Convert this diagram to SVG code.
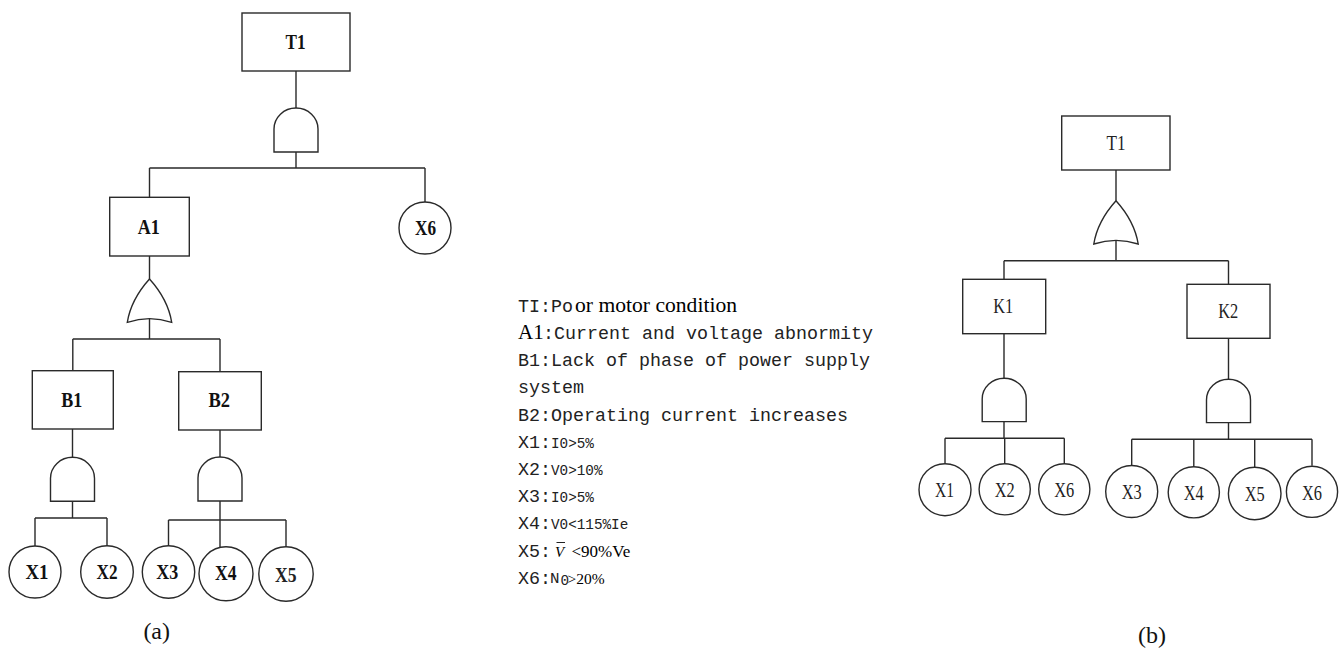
<svg xmlns="http://www.w3.org/2000/svg" width="1344" height="653" viewBox="0 0 1344 653">
<style>
.s{fill:#fff;stroke:#2a2a2a;stroke-width:1.4}
.c{fill:none;stroke:#2a2a2a;stroke-width:1.4}
.lb{font-family:"Liberation Serif",serif;font-weight:bold;font-size:20px;fill:#111;text-anchor:middle}
.ln{font-family:"Liberation Serif",serif;font-size:21px;fill:#222;text-anchor:middle}
.m{font-family:"Liberation Mono",monospace;font-size:18.33px;fill:#222}
.ms{font-family:"Liberation Mono",monospace;font-size:14.3px;fill:#222}
.t{font-family:"Liberation Serif",serif;fill:#000}
.cap{font-family:"Liberation Serif",serif;font-size:24px;fill:#111;text-anchor:middle}
</style>
<defs>
<path id="and" d="M-22,44 V21 A22,21 0 0 1 22,21 V44 Z"/>
<path id="or" d="M0,0 Q-18.5,20.5 -22.2,43.3 Q0,36 22.2,43.3 Q18.5,20.5 0,0 Z"/>
</defs>

<g id="connectors" class="c">
<!-- tree (a) -->
<path d="M296,71 V108 M296,152 V168 M149.5,168 H425 M149.5,168 V197.3 M425,168 V202"/>
<path d="M149.5,256 V279 M149.5,319 V339 M72.8,339 H220 M72.8,339 V370.7 M220,339 V371.7"/>
<path d="M72.5,429 V457 M72.5,501 V518 M35,518 H107 M35,518 V546 M107,518 V546"/>
<path d="M220,430 V457 M220,501 V520 M168.5,520 H286 M168.5,520 V546 M220,520 V547.5 M286,520 V547"/>
<!-- tree (b) -->
<path d="M1116,170 V200.7 M1116,240.7 V260.7 M1004,260.7 H1228.5 M1004,260.7 V279.3 M1228.5,260.7 V284.3"/>
<path d="M1004,333.7 V378.3 M1004,421.7 V438.3 M945,438.3 H1064.3 M945,438.3 V463.7 M1004.7,438.3 V463.3 M1064.3,438.3 V463.3"/>
<path d="M1228.5,338.3 V379.3 M1228.5,422.7 V439.3 M1131.7,439.3 H1312 M1131.7,439.3 V465.5 M1193.8,439.3 V466.3 M1254.7,439.3 V467.5 M1312,439.3 V465.8"/>
</g>

<!-- ===== Tree (a) ===== -->
<g id="a-T1"><rect class="s" x="242" y="13" width="108" height="58"/><text class="lb" x="295.5" y="49.3" textLength="20" lengthAdjust="spacingAndGlyphs">T1</text></g>
<g id="a-G1"><use href="#and" class="s" transform="translate(296,108)"/></g>
<g id="a-A1"><rect class="s" x="109.7" y="197.3" width="79.6" height="58.7"/><text class="lb" x="148.7" y="234.3" textLength="22" lengthAdjust="spacingAndGlyphs">A1</text></g>
<g id="a-X6"><circle class="s" cx="425" cy="228" r="26"/><text class="lb" x="425.5" y="235" textLength="21" lengthAdjust="spacingAndGlyphs">X6</text></g>
<g id="a-G2"><use href="#or" class="s" transform="translate(149.5,279)"/></g>
<g id="a-B1"><rect class="s" x="32.3" y="370.7" width="81" height="58.3"/><text class="lb" x="71.7" y="407.3" textLength="21" lengthAdjust="spacingAndGlyphs">B1</text></g>
<g id="a-B2"><rect class="s" x="178.7" y="371.7" width="82.6" height="58.3"/><text class="lb" x="219.2" y="407.3" textLength="21.5" lengthAdjust="spacingAndGlyphs">B2</text></g>
<g id="a-G3"><use href="#and" class="s" transform="translate(72.5,457.3)"/></g>
<g id="a-G4"><use href="#and" class="s" transform="translate(220,457)"/></g>
<g id="a-X1"><circle class="s" cx="35" cy="572" r="26"/><text class="lb" x="37" y="579.3" textLength="23" lengthAdjust="spacingAndGlyphs">X1</text></g>
<g id="a-X2"><circle class="s" cx="107" cy="572" r="26.3"/><text class="lb" x="107" y="579.3" textLength="21" lengthAdjust="spacingAndGlyphs">X2</text></g>
<g id="a-X3"><circle class="s" cx="168.5" cy="572" r="26.2"/><text class="lb" x="167.3" y="578.5" textLength="22" lengthAdjust="spacingAndGlyphs">X3</text></g>
<g id="a-X4"><circle class="s" cx="226" cy="573.8" r="27"/><text class="lb" x="225.8" y="580" textLength="21.5" lengthAdjust="spacingAndGlyphs">X4</text></g>
<g id="a-X5"><circle class="s" cx="286" cy="574" r="27.2"/><text class="ln" x="285.8" y="581.7" textLength="21.5" lengthAdjust="spacingAndGlyphs" font-weight="600">X5</text></g>
<text class="cap" x="156.7" y="638.5">(a)</text>

<!-- ===== Legend ===== -->
<g id="legend">
<text class="m" x="518" y="311.5">TI:Po</text><text class="t" x="575" y="311.5" font-size="21" textLength="162" lengthAdjust="spacingAndGlyphs">or motor condition</text>
<text class="t" x="518" y="338.8" font-size="21">A1</text><text class="m" x="543" y="338.8">:Current and voltage abnormity</text>
<text class="m" x="518" y="366">B1:Lack of phase of power supply</text>
<text class="m" x="518" y="393.3">system</text>
<text class="m" x="518" y="420.5">B2:Operating current increases</text>
<text class="m" x="518" y="447.7">X1:</text><text class="ms" x="551" y="447.7">I0&gt;5%</text>
<text class="m" x="518" y="474.9">X2:</text><text class="ms" x="551" y="474.9">V0&gt;10%</text>
<text class="m" x="518" y="502.1">X3:</text><text class="ms" x="551" y="502.1">I0&gt;5%</text>
<text class="m" x="518" y="529.3">X4:</text><text class="ms" x="551" y="529.3">V0&lt;115%Ie</text>
<text class="m" x="518" y="556.5">X5:</text><text class="t" x="555" y="556.5" font-size="15" font-style="italic">V</text><line x1="556.5" y1="542.5" x2="565" y2="542.5" stroke="#222" stroke-width="1"/><text class="t" x="571.5" y="556.5" font-size="17">&lt;90%Ve</text>
<text class="m" x="518" y="583.7">X6:</text><text class="ms" x="550" y="583.3" textLength="9.5" lengthAdjust="spacingAndGlyphs">N</text><text class="ms" x="560.5" y="584.5" font-size="9">0</text><text class="t" x="567.5" y="583.5" font-size="15.5">&gt;20%</text>
</g>

<!-- ===== Tree (b) ===== -->
<g id="b-T1"><rect class="s" x="1061.7" y="116" width="108.3" height="54"/><text class="ln" x="1116" y="150" textLength="19" lengthAdjust="spacingAndGlyphs">T1</text></g>
<g id="b-G1"><use href="#or" class="s" transform="translate(1116,200.7)"/></g>
<g id="b-K1"><rect class="s" x="962.7" y="279.3" width="83" height="54.4"/><text class="ln" x="1003.3" y="313.3" textLength="20" lengthAdjust="spacingAndGlyphs">K1</text></g>
<g id="b-K2"><rect class="s" x="1187" y="284.3" width="83" height="54"/><text class="ln" x="1228.3" y="318" textLength="20" lengthAdjust="spacingAndGlyphs">K2</text></g>
<g id="b-G2"><use href="#and" class="s" transform="translate(1004.2,378.3) scale(1,0.986)"/></g>
<g id="b-G3"><use href="#and" class="s" transform="translate(1228.5,379.3) scale(1,0.986)"/></g>
<g id="b-X1"><circle class="s" cx="945" cy="489.7" r="26"/><text class="ln" x="944.5" y="497.4" textLength="19" lengthAdjust="spacingAndGlyphs">X1</text></g>
<g id="b-X2"><circle class="s" cx="1004.7" cy="489.3" r="25.6"/><text class="ln" x="1004.7" y="497" textLength="20" lengthAdjust="spacingAndGlyphs">X2</text></g>
<g id="b-X6a"><circle class="s" cx="1064.3" cy="489.3" r="25.6"/><text class="ln" x="1064.3" y="497" textLength="20" lengthAdjust="spacingAndGlyphs">X6</text></g>
<g id="b-X3"><circle class="s" cx="1131.7" cy="491.5" r="26"/><text class="ln" x="1131.7" y="499" textLength="20" lengthAdjust="spacingAndGlyphs">X3</text></g>
<g id="b-X4"><circle class="s" cx="1193.8" cy="492.3" r="25.6"/><text class="ln" x="1193.8" y="500" textLength="20" lengthAdjust="spacingAndGlyphs">X4</text></g>
<g id="b-X5"><circle class="s" cx="1254.7" cy="493.5" r="26.3"/><text class="ln" x="1254.7" y="501.2" textLength="20" lengthAdjust="spacingAndGlyphs">X5</text></g>
<g id="b-X6b"><circle class="s" cx="1312" cy="491.8" r="25.6"/><text class="ln" x="1312" y="499.5" textLength="20" lengthAdjust="spacingAndGlyphs">X6</text></g>
<text class="cap" x="1152" y="642.5">(b)</text>
</svg>
